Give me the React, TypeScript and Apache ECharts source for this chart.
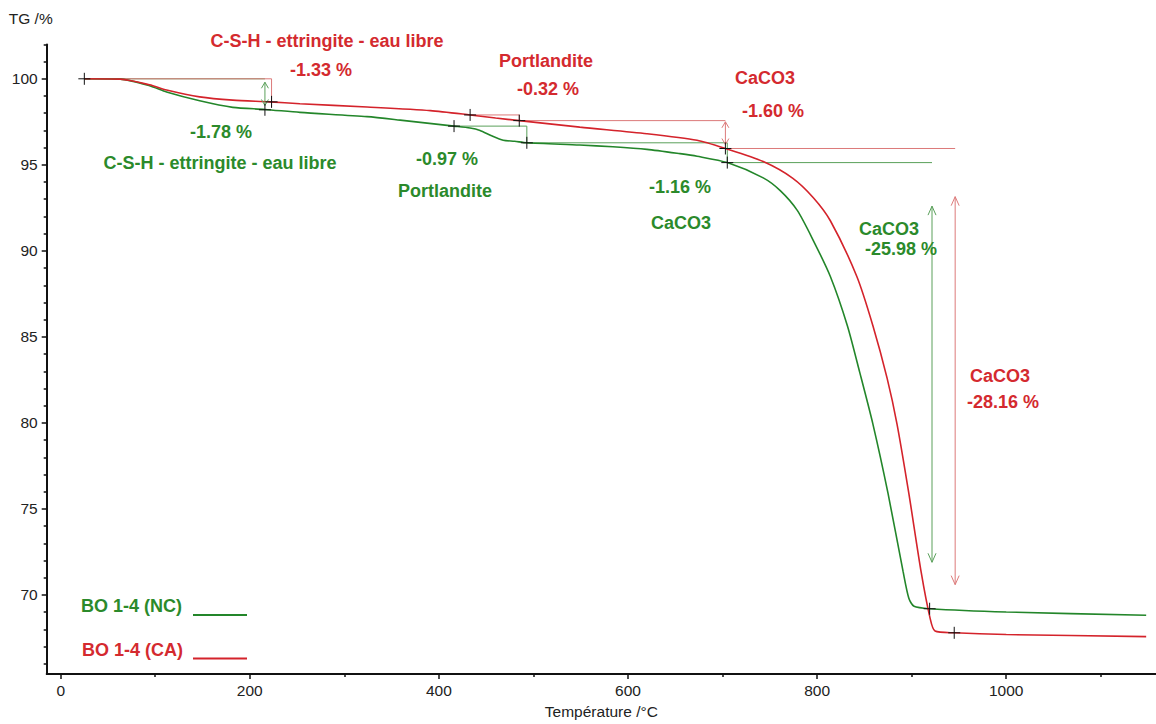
import React, { useEffect, useRef } from 'react';
import * as echarts from 'echarts';

// ---- Data ----
const seriesNames = ['BO 1-4 (NC)', 'BO 1-4 (CA)'];

const temperatureNC = [25, 63, 94, 112, 147, 182, 216, 253, 324, 359, 416, 433, 443.5, 455, 468, 480, 493, 549, 584, 620, 655, 673, 705, 743, 761, 779, 796, 814, 832, 845, 859, 875, 891, 897, 902.5, 919, 1000, 1148];
const tgNC = [100, 99.98, 99.6, 99.23, 98.72, 98.34, 98.22, 98.05, 97.8, 97.6, 97.25, 97.14, 97.0, 96.71, 96.43, 96.37, 96.28, 96.15, 96.05, 95.9, 95.65, 95.5, 95.13, 94.24, 93.5, 92.35, 90.6, 88.51, 85.65, 82.95, 79.93, 75.9, 71.34, 69.81, 69.34, 69.2, 69.01, 68.82];

const temperatureCA = [25, 63, 94, 112, 147, 182, 221, 253, 324, 391, 433, 460, 485, 549, 620, 673, 703, 743, 774, 796, 814, 842, 859, 874, 884.5, 897, 910, 919.4, 924.7, 945, 1000, 1148];
const tgCA = [100, 99.98, 99.65, 99.35, 98.95, 98.76, 98.66, 98.55, 98.36, 98.15, 97.9, 97.72, 97.57, 97.19, 96.81, 96.43, 95.95, 95.19, 94.23, 93.09, 91.75, 88.51, 85.65, 82.6, 79.93, 75.9, 71.34, 68.67, 67.9, 67.8, 67.7, 67.58];

// step markers ("+") [temperature, TG]
const crossesNC = [[25, 100], [216, 98.2], [416, 97.25], [493, 96.28], [705, 95.13], [919, 69.2]];
const crossesCA = [[223, 98.66], [433, 97.9], [485, 97.57], [703, 95.95], [945, 67.8]];

// step construction lines
const stepLinesNC = [
  [[25, 100], [216, 100]],
  [[416, 97.25], [493, 97.25], [493, 96.28], [705, 96.28], [705, 95.13], [921.5, 95.13]],
];
const stepLinesCA = [
  [[25, 100], [223, 100], [223, 98.35]],
  [[433, 97.9], [485, 97.9], [485, 97.57], [703, 97.57]],
  [[703, 95.95], [946, 95.95]],
];

// double arrows [temperature, TG from, TG to]
const arrowsNC = [[216, 99.8, 98.45], [921.5, 92.6, 71.9]];
const arrowsCA = [[703, 97.5, 96.18], [946, 93.15, 70.6]];

// axis ticks
const xMajorTicks = [0, 200, 400, 600, 800, 1000];
const xMinorTicks = [100, 300, 500, 700, 900, 1100];
const yMajorTicks = [70, 75, 80, 85, 90, 95, 100];
const yMinorTicks = [66, 67, 68, 69, 71, 72, 73, 74, 76, 77, 78, 79, 81, 82, 83, 84, 86, 87, 88, 89, 91, 92, 93, 94, 96, 97, 98, 99, 101, 102];

// ---- Styling ----
const FONT = "'Liberation Sans', Arial, Helvetica, sans-serif";
const GREEN = '#23862a';
const RED = '#d4232b';
const GREEN_TEXT = '#2b8a2b';
const RED_TEXT = '#d42a2f';
const GREEN_REF = '#5aa05a';
const RED_REF = '#dc7a7a';
const AXIS = '#111111';

const X_MIN = -14.8;
const X_MAX = 1158.4;
const Y_MIN = 65.4;
const Y_MAX = 102;

function zip(xs: number[], ys: number[]) {
  return xs.map((x, i) => [x, ys[i]]);
}

const crossRender = (params: any, api: any) => {
  const p = api.coord([api.value(0), api.value(1)]);
  const s = { stroke: '#111', lineWidth: 1 };
  return {
    type: 'group',
    children: [
      { type: 'line', shape: { x1: p[0] - 6, y1: p[1], x2: p[0] + 6, y2: p[1] }, style: s },
      { type: 'line', shape: { x1: p[0], y1: p[1] - 6, x2: p[0], y2: p[1] + 6 }, style: s },
    ],
  };
};

const makeArrowRender = (color: string) => (params: any, api: any) => {
  const a = api.coord([api.value(0), api.value(1)]);
  const b = api.coord([api.value(0), api.value(2)]);
  const x = a[0];
  const top = Math.min(a[1], b[1]);
  const bot = Math.max(a[1], b[1]);
  const big = bot - top > 60;
  const h = big ? 9 : 6;
  const w = big ? 4 : 3.5;
  const s = { stroke: color, lineWidth: 1, fill: 'none' };
  return {
    type: 'group',
    children: [
      { type: 'line', shape: { x1: x, y1: top, x2: x, y2: bot }, style: s },
      { type: 'polyline', shape: { points: [[x - w, top + h], [x, top], [x + w, top + h]] }, style: s },
      { type: 'polyline', shape: { points: [[x - w, bot - h], [x, bot], [x + w, bot - h]] }, style: s },
    ],
  };
};

function stepSeries(lines: number[][][], color: string, prefix: string) {
  return lines.map((pts, i) => ({
    name: `${prefix}-${i}`,
    type: 'line',
    data: pts,
    showSymbol: false,
    symbol: 'none',
    lineStyle: { color, width: 1 },
    silent: true,
    z: 2,
  }));
}

function annotation(text: string, x: number, y: number, color: string) {
  return {
    type: 'text',
    silent: true,
    style: {
      text,
      x,
      y,
      fill: color,
      font: `bold 18px ${FONT}`,
      align: 'center',
      verticalAlign: 'middle',
      textAlign: 'center',
      textVerticalAlign: 'middle',
    },
    z: 10,
  };
}

const annotations = [
  annotation('C-S-H - ettringite - eau libre', 327, 41, RED_TEXT),
  annotation('-1.33 %', 321, 70, RED_TEXT),
  annotation('Portlandite', 546, 61, RED_TEXT),
  annotation('-0.32 %', 548, 89, RED_TEXT),
  annotation('CaCO3', 765, 78, RED_TEXT),
  annotation('-1.60 %', 773, 111, RED_TEXT),
  annotation('CaCO3', 1000, 376, RED_TEXT),
  annotation('-28.16 %', 1003, 402, RED_TEXT),
  annotation('-1.78 %', 221, 132, GREEN_TEXT),
  annotation('C-S-H - ettringite - eau libre', 220, 163, GREEN_TEXT),
  annotation('-0.97 %', 447, 159, GREEN_TEXT),
  annotation('Portlandite', 445, 191, GREEN_TEXT),
  annotation('-1.16 %', 680, 187, GREEN_TEXT),
  annotation('CaCO3', 681, 223, GREEN_TEXT),
  annotation('CaCO3', 889, 229, GREEN_TEXT),
  annotation('-25.98 %', 901, 249, GREEN_TEXT),
];

const legendGraphic = [
  {
    type: 'text',
    silent: true,
    style: {
      text: seriesNames[0], x: 81, y: 606, fill: GREEN_TEXT, font: `bold 18px ${FONT}`,
      align: 'left', verticalAlign: 'middle', textAlign: 'left', textVerticalAlign: 'middle',
    },
  },
  { type: 'line', silent: true, shape: { x1: 193, y1: 615, x2: 247, y2: 615 }, style: { stroke: GREEN, lineWidth: 2 } },
  {
    type: 'text',
    silent: true,
    style: {
      text: seriesNames[1], x: 82, y: 650, fill: RED_TEXT, font: `bold 18px ${FONT}`,
      align: 'left', verticalAlign: 'middle', textAlign: 'left', textVerticalAlign: 'middle',
    },
  },
  { type: 'line', silent: true, shape: { x1: 193, y1: 658.5, x2: 247, y2: 658.5 }, style: { stroke: RED, lineWidth: 2 } },
];

const axisText = { color: '#222', fontSize: 15.5, fontFamily: FONT };
const plainNumber = (v: number) => String(v);

const option: any = {
  animation: false,
  backgroundColor: '#ffffff',
  textStyle: { fontFamily: FONT },
  grid: { left: 46.7, right: 0, top: 44.4, bottom: 40.7, containLabel: false },
  xAxis: [
    {
      type: 'value',
      min: X_MIN,
      max: X_MAX,
      position: 'bottom',
      name: 'Température /°C',
      nameLocation: 'middle',
      nameGap: 24,
      nameTextStyle: { ...axisText },
      axisLine: { show: true, onZero: false, lineStyle: { color: AXIS, width: 2 } },
      axisTick: { show: true, customValues: xMajorTicks, length: 5, lineStyle: { color: AXIS, width: 1.5 } },
      axisLabel: { show: true, customValues: xMajorTicks, margin: 8, formatter: plainNumber, ...axisText },
      splitLine: { show: false },
    },
    {
      type: 'value',
      min: X_MIN,
      max: X_MAX,
      position: 'bottom',
      axisLine: { show: false, onZero: false },
      axisTick: { show: true, customValues: xMinorTicks, length: 3, lineStyle: { color: AXIS, width: 1.5 } },
      axisLabel: { show: false },
      splitLine: { show: false },
    },
  ],
  yAxis: [
    {
      type: 'value',
      min: Y_MIN,
      max: Y_MAX,
      position: 'left',
      name: 'TG /%',
      nameLocation: 'end',
      nameGap: 18,
      nameTextStyle: { ...axisText, align: 'right', padding: [0, -6, 0, 0] },
      axisLine: { show: true, onZero: false, lineStyle: { color: AXIS, width: 2 } },
      axisTick: { show: true, customValues: yMajorTicks, length: 5, lineStyle: { color: AXIS, width: 1.5 } },
      axisLabel: { show: true, customValues: yMajorTicks, margin: 9, formatter: plainNumber, ...axisText },
      splitLine: { show: false },
    },
    {
      type: 'value',
      min: Y_MIN,
      max: Y_MAX,
      position: 'left',
      axisLine: { show: false, onZero: false },
      axisTick: { show: true, customValues: yMinorTicks, length: 3, lineStyle: { color: AXIS, width: 1.5 } },
      axisLabel: { show: false },
      splitLine: { show: false },
    },
  ],
  series: [
    ...stepSeries(stepLinesNC, GREEN_REF, 'stepNC'),
    ...stepSeries(stepLinesCA, RED_REF, 'stepCA'),
    {
      name: seriesNames[0],
      type: 'line',
      data: zip(temperatureNC, tgNC),
      showSymbol: false,
      symbol: 'none',
      smooth: 0.25,
      lineStyle: { color: GREEN, width: 1.6 },
      z: 3,
    },
    {
      name: seriesNames[1],
      type: 'line',
      data: zip(temperatureCA, tgCA),
      showSymbol: false,
      symbol: 'none',
      smooth: 0.25,
      lineStyle: { color: RED, width: 1.6 },
      z: 4,
    },
    {
      name: 'arrowsNC',
      type: 'custom',
      renderItem: makeArrowRender(GREEN_REF),
      data: arrowsNC,
      encode: { x: 0, y: [1, 2] },
      silent: true,
      z: 5,
    },
    {
      name: 'arrowsCA',
      type: 'custom',
      renderItem: makeArrowRender(RED_REF),
      data: arrowsCA,
      encode: { x: 0, y: [1, 2] },
      silent: true,
      z: 5,
    },
    {
      name: 'crossesNC',
      type: 'custom',
      renderItem: crossRender,
      data: crossesNC,
      encode: { x: 0, y: 1 },
      silent: true,
      z: 6,
    },
    {
      name: 'crossesCA',
      type: 'custom',
      renderItem: crossRender,
      data: crossesCA,
      encode: { x: 0, y: 1 },
      silent: true,
      z: 6,
    },
  ],
  graphic: [...annotations, ...legendGraphic],
};

export default function App() {
  const ref = useRef<HTMLDivElement>(null);
  useEffect(() => {
    document.body.style.margin = '0';
    if (!ref.current) return;
    const chart = echarts.init(ref.current, null, { renderer: 'svg' });
    chart.setOption(option);
    return () => chart.dispose();
  }, []);
  return <div ref={ref} style={{ width: 1156, height: 724 }} />;
}
